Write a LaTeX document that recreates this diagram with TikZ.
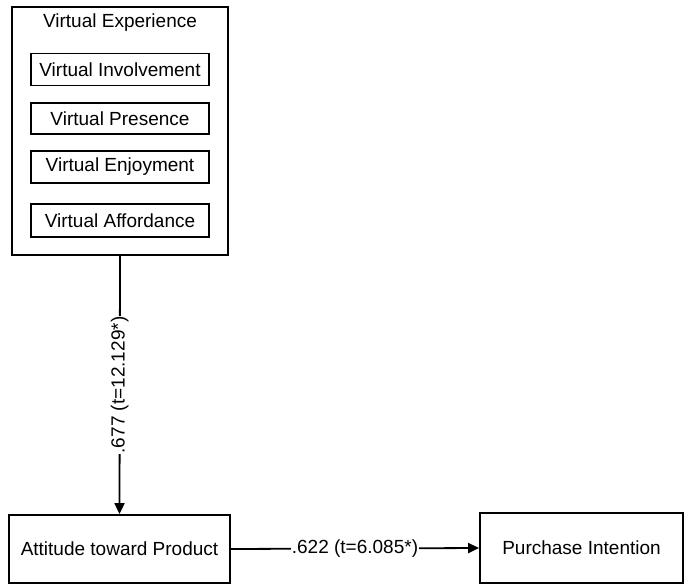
\documentclass[tikz,border=0pt]{standalone}
\usepackage{fontspec}
\setmainfont{Liberation Sans}
\usetikzlibrary{arrows.meta}
\begin{document}
\begin{tikzpicture}[x=1pt,y=-1pt,
  font=\fontsize{19}{23}\selectfont,
  box/.style={draw,line width=1.8pt,inner sep=0pt},
  link/.style={draw,line width=1.8pt,-{Triangle[length=11pt,width=10pt]}},
  coef/.style={fill=white,inner sep=1pt}]
\useasboundingbox (0,0) rectangle (684,586);

\node[box,minimum width=216pt,minimum height=248pt] (exp) at (120,131) {};
\node (exptitle) at (120,23) {Virtual Experience};

\node[box,minimum width=178pt,minimum height=32pt] (inv) at (120,69.5) {Virtual Involvement};
\node[box,minimum width=178pt,minimum height=31pt] (pres) at (120,118.5) {Virtual Presence};
\node[box,minimum width=178pt,minimum height=32pt] (enj) at (120,167) {Virtual Enjoyment};
\node[box,minimum width=178pt,minimum height=33pt] (aff) at (120,220.5) {Virtual Affordance};

\node[box,minimum width=221pt,minimum height=68pt] (att) at (119.5,549) {Attitude toward Product};
\node[box,minimum width=203pt,minimum height=70pt] (pi) at (581.5,548) {Purchase Intention};

\draw[link] (exp.south) -- node[coef,rotate=90] {.677 (t=12.129*)} (att.north);
\draw[link] (att.east) -- node[coef] {.622 (t=6.085*)} (pi.west);
\end{tikzpicture}
\end{document}
